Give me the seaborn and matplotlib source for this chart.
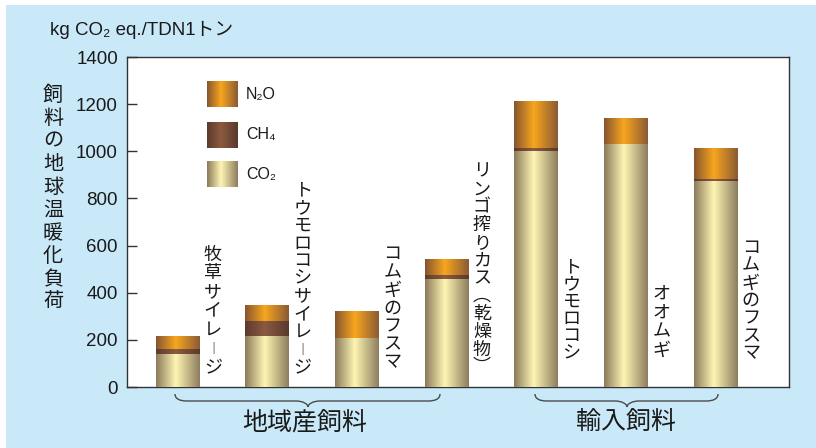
import numpy as np
import pandas as pd
import matplotlib
matplotlib.use("Agg")
import matplotlib.pyplot as plt
import seaborn as sns
from matplotlib.colors import LinearSegmentedColormap
from matplotlib.path import Path
from matplotlib.patches import PathPatch, Rectangle

# ---- data (kg CO2 eq. per 1 t TDN) ----
feed_keys = ["local_grass_silage", "local_corn_silage", "local_bran", "local_apple",
             "import_corn", "import_barley", "import_bran"]
feed_labels = ["牧草サイレージ", "トウモロコシサイレージ", "コムギのフスマ", "リンゴ搾りカス（乾燥物）",
               "トウモロコシ", "オオムギ", "コムギのフスマ"]
co2 = [136, 216, 204, 454, 1001, 1027, 871]
ch4 = [25, 60, 0, 17, 9, 0, 9]
n2o = [55, 68, 118, 68, 203, 114, 130]
group_names = ["地域産飼料", "輸入飼料"]
y_ticks = [0, 200, 400, 600, 800, 1000, 1200, 1400]
legend_labels = ["N₂O", "CH₄", "CO₂"]

sns.set_style("white")
plt.rcParams["font.family"] = ["Liberation Sans", "Noto Sans CJK JP", "DejaVu Sans"]

W, H = 816, 448
fig = plt.figure(figsize=(W / 100, H / 100), dpi=100)
fig.patch.set_facecolor("white")
BG = "#c9e9f9"
fig.patches.append(Rectangle((6 / W, 0), 1 - 6 / W, 1 - 5 / H, transform=fig.transFigure,
                             facecolor=BG, edgecolor="none", zorder=-10))


def px_box(x0, y0, x1, y1):
    """pixel box (top-left origin) -> figure fraction rect"""
    return [x0 / W, 1 - y1 / H, (x1 - x0) / W, (y1 - y0) / H]


ax = fig.add_axes(px_box(127, 57, 789, 387))
ax.set_facecolor("white")

df = pd.DataFrame({"feed": feed_keys, "co2": co2, "ch4": ch4, "n2o": n2o})
df["mid"] = df["co2"] + df["ch4"]
df["total"] = df["mid"] + df["n2o"]


def cmap3(left, center, right, pos=0.45):
    return LinearSegmentedColormap.from_list("g", [(0, left), (pos, center), (1, right)])


cm_n2o = cmap3("#86552f", "#f8a61e", "#8a5a34")
cm_ch4 = cmap3("#5c3a2d", "#8b5a40", "#5a392d")
cm_co2 = cmap3("#8a7a5a", "#fff5b2", "#8c7c5e")
grad = np.linspace(0, 1, 256).reshape(1, -1)

bar_w = 0.48
layers = [("total", cm_n2o, 2), ("mid", cm_ch4, 3), ("co2", cm_co2, 4)]
for col, cm, z in layers:
    n_before = len(ax.patches)
    sns.barplot(data=df, x="feed", y=col, order=feed_keys, color="white", width=bar_w,
                errorbar=None, saturation=1, ax=ax)
    for p in ax.patches[n_before:]:
        x0, w, h = p.get_x(), p.get_width(), p.get_height()
        if h <= 0:
            p.set_visible(False)
            continue
        ax.imshow(grad, extent=[x0, x0 + w, 0, h], cmap=cm, aspect="auto",
                  interpolation="bilinear", zorder=z)
        p.set_visible(False)

ax.set_xlim(-0.558, 6.825)
ax.set_ylim(0, 1400)
ax.set_yticks(y_ticks)
ax.set_yticklabels([str(v) for v in y_ticks], fontsize=13.5, color="#1a1a1a")
ax.set_xticks([])
ax.set_xlabel("")
ax.set_ylabel("")
ax.tick_params(axis="y", direction="in", length=7.2, width=1, color="#333333", pad=6.5, left=True)
for s in ax.spines.values():
    s.set_visible(True)
    s.set_color("#333333")
    s.set_linewidth(1)

# vertical-writing forms for the long vowel mark and brackets
VERT = {"ー": "︱", "（": "︵", "）": "︶"}
VSCALE = {"ー": 0.78}


def vtext(x, y, text, pitch_px, size, xycoords="data"):
    pitch = pitch_px * 72 / 100
    for i, ch in enumerate(text):
        ax.annotate(VERT.get(ch, ch), xy=(x, y), xycoords=xycoords, xytext=(0, -i * pitch),
                    textcoords="offset points", ha="center", va="center",
                    fontsize=size * VSCALE.get(ch, 1.0), color="#1a1a1a",
                    annotation_clip=False, zorder=6)


# bar captions, written vertically beside each bar
label_dx = 0.40
label_top = [560, 832, 560, 912, 505, 395, 586]
label_pitch = [18.8, 17.7, 18.0, 17.8, 17.2, 19.0, 17.5]
for i, lab in enumerate(feed_labels):
    vtext(i + label_dx, label_top[i], lab, label_pitch[i], 13)

# y-axis title (vertical) and unit
title = "飼料の地球温暖化負荷"
for i, ch in enumerate(title):
    fig.text(53 / W, 1 - (95 + i * 23.1) / H, ch, ha="center", va="center",
             fontsize=14.5, color="#1a1a1a")
fig.text(50 / W, 1 - 30 / H, "kg CO₂ eq./TDN1トン", ha="left", va="center",
         fontsize=13.5, color="#1a1a1a")

# legend swatches
sw_centers = [94, 135, 174]
for yc, cm, lab in zip(sw_centers, [cm_n2o, cm_ch4, cm_co2], legend_labels):
    la = fig.add_axes(px_box(207, yc - 13, 238, yc + 13))
    la.imshow(grad, cmap=cm, aspect="auto", interpolation="bilinear")
    la.axis("off")
    fig.text(246 / W, 1 - yc / H, lab, ha="left", va="center", fontsize=11.5, color="#1a1a1a")


# group braces under the axis
def brace(x0, x1, xc, y_tip=394, y_line=401, y_pt=407, r=12):
    pts = [(x0, y_tip), (x0, y_tip + 5), (x0 + 5, y_line), (x0 + r, y_line),
           (xc - r, y_line), (xc - 5, y_line), (xc, y_pt - 3), (xc, y_pt),
           (xc, y_pt - 3), (xc + 5, y_line), (xc + r, y_line),
           (x1 - r, y_line), (x1 - 5, y_line), (x1, y_tip + 5), (x1, y_tip)]
    codes = [Path.MOVETO, Path.CURVE4, Path.CURVE4, Path.CURVE4,
             Path.LINETO, Path.CURVE4, Path.CURVE4, Path.CURVE4,
             Path.CURVE4, Path.CURVE4, Path.CURVE4,
             Path.LINETO, Path.CURVE4, Path.CURVE4, Path.CURVE4]
    verts = [(px / W, 1 - py / H) for px, py in pts]
    fig.patches.append(PathPatch(Path(verts, codes), transform=fig.transFigure,
                                 facecolor="none", edgecolor="#4a4a4a", lw=1.0))


brace(175, 440, 308)
brace(535, 718, 627)
fig.text(305 / W, 1 - 422 / H, group_names[0], ha="center", va="center", fontsize=18, color="#1a1a1a")
fig.text(626 / W, 1 - 422 / H, group_names[1], ha="center", va="center", fontsize=18, color="#1a1a1a")

fig.savefig("out.png", dpi=100)
